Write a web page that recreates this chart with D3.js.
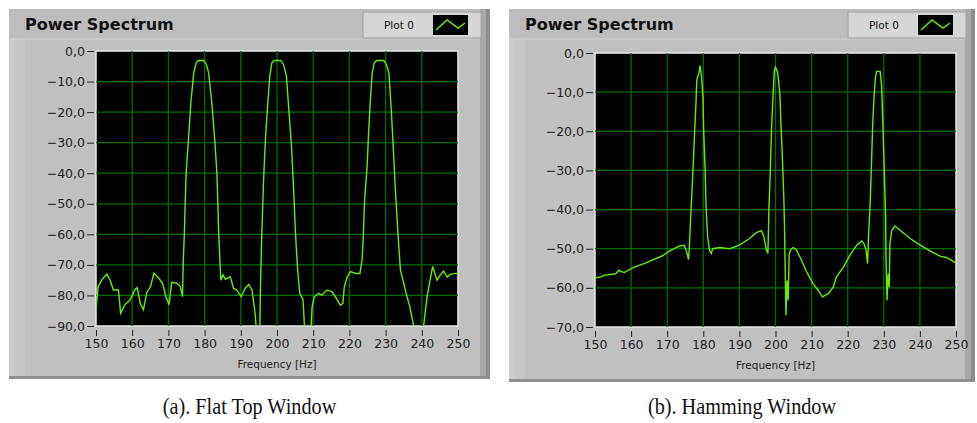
<!DOCTYPE html>
<html lang="en">
<head>
    <meta charset="UTF-8">
    <title>Power Spectrum</title>
    <script src="https://d3js.org/d3.v7.min.js"></script>
    <style>
        body { margin: 0; background: #fff; }
        text { font-family: 'DejaVu Sans', sans-serif; }
        text.caption { font-family: 'Liberation Serif', serif; }
    </style>
</head>
<body>
<script>
    const width  = 977;
    const height = 423;

    const xTicks = [150, 160, 170, 180, 190, 200, 210, 220, 230, 240, 250];
    const yTicksFlat = [0, -10, -20, -30, -40, -50, -60, -70, -80, -90];
    const yTicksHamming = [0, -10, -20, -30, -40, -50, -60, -70];

    // [frequency Hz, dB]
    const flatTop = [
        [150, -84.7], [150.6, -77], [151.6, -75], [153, -73], [153.9, -75], [154.8, -78.2],
        [156.2, -78.2], [156.8, -85.8], [158, -83], [159.4, -81.5], [160.8, -78], [161.4, -77.5],
        [162.2, -82.5], [163.1, -84.7], [164, -79.2], [165.1, -77], [166, -72.7], [167.3, -74.3],
        [168.4, -76], [169.3, -80.4], [170.2, -83], [170.9, -75.7], [172.3, -76], [173.3, -77],
        [173.9, -80.4], [174.1, -69], [174.4, -60], [174.6, -50.9], [174.9, -40], [175.6, -27.9],
        [176.2, -17], [177, -7.1], [177.7, -3.8], [178.3, -3.1], [179.7, -3.1], [180.5, -4.4],
        [181.1, -7.1], [182, -17], [182.8, -29], [183.4, -40], [183.9, -59.6], [184.3, -70.6],
        [184.5, -75], [185.1, -73.3], [185.7, -74.7], [187.1, -73.9], [188, -77.7], [188.9, -78.2],
        [190.1, -80.4], [191.2, -77.7], [192.2, -76.4], [193.1, -78.2], [194, -86.4], [194.5, -95],
        [195.2, -95], [195.4, -79.3], [195.7, -64], [196, -53], [196.3, -42.1], [196.8, -29],
        [197.4, -18], [198, -8.2], [198.6, -3.8], [199.3, -3.1], [201.1, -3.1], [201.8, -4.4],
        [202.6, -8.2], [203.2, -18], [204, -31.2], [204.6, -45.4], [205.1, -59.6], [205.7, -71.7],
        [206.3, -79.3], [207.2, -81.5], [207.8, -95], [209.2, -95], [209.7, -83.7], [210.3, -80.4],
        [211.5, -79.3], [212.4, -79.9], [213.8, -78.2], [215.2, -78.8], [216.1, -80.4], [217.5, -83.2],
        [218.2, -82.6], [218.6, -77.1], [219.4, -73.9], [220.3, -72.2], [221.7, -72.8], [222.9, -72.8],
        [223.5, -68.4], [223.8, -61.8], [224.2, -48.7], [224.9, -37.7], [225.3, -26.8], [225.8, -15.9],
        [226.3, -7.1], [226.9, -3.8], [227.6, -3.1], [229.5, -3.1], [230.2, -4.4], [230.9, -7.1],
        [231.5, -18], [232.1, -31.2], [232.7, -45.4], [233.4, -59.6], [234.1, -71.7], [235, -76],
        [235.9, -80.4], [236.7, -83.7], [238.6, -95], [240, -95], [241.5, -80], [243, -70.5],
        [244.2, -75], [245, -73.5], [246, -72], [247, -74], [248, -73], [250, -72.7]
    ];

    const hamming = [
        [150, -57.5], [151.6, -57.2], [152.5, -56.8], [155.7, -56.4], [156.7, -55.5], [157.1, -55.8],
        [158.1, -56.1], [160.4, -54.9], [164.1, -53.6], [168.7, -51.8], [170.6, -50.6], [173.4, -49.3],
        [174.7, -49.1], [175.4, -50.8], [175.9, -52.8], [176.1, -50.2], [176.6, -40.1], [177.1, -30.7],
        [177.5, -22.2], [178, -12], [178.2, -6.8], [178.8, -5.1], [179.1, -3.2], [179.5, -6],
        [179.9, -11.1], [180.1, -19.6], [180.5, -29.9], [180.8, -40.1], [181.2, -47], [181.7, -50.4],
        [182.2, -51.2], [182.6, -50], [184.5, -49.7], [187.3, -50], [190, -49.1], [192.8, -47.4],
        [194.7, -45.9], [196.1, -45.4], [196.8, -47], [197.5, -50.4], [197.9, -51.2], [198.2, -39.3],
        [198.6, -29], [198.9, -19.6], [199.3, -11.1], [199.7, -4.3], [200, -3.6], [200.6, -5.1],
        [201.2, -10.2], [201.5, -17.9], [201.9, -26.5], [202.3, -36.7], [202.5, -44.4], [202.7, -56.4],
        [202.9, -67], [203.2, -58.1], [203.5, -63.2], [203.8, -51.2], [204.3, -50.1], [204.9, -49.7],
        [205.8, -50.4], [207.2, -52.9], [208.6, -55.9], [210.4, -58.9], [211.8, -60.6], [213, -62.3],
        [214.6, -61.5], [216, -59.8], [216.9, -57.2], [218.8, -54.7], [220.6, -51.7], [222.5, -49.1],
        [223.9, -48], [224.5, -48.7], [225.1, -50.4], [225.5, -53.8], [225.8, -46.1], [226.2, -39.3],
        [226.6, -28.2], [226.9, -18.8], [227.3, -11.1], [227.7, -6], [228, -4.7], [229, -4.7],
        [229.4, -8.5], [229.7, -17.1], [230.1, -29], [230.5, -41.8], [230.6, -52.1], [230.9, -63.2],
        [231.2, -56.4], [231.5, -59.8], [231.7, -48.7], [232.2, -45.3], [233.1, -44.2], [234.5, -45.3],
        [237.3, -47.4], [240.1, -49.1], [242.9, -50.6], [245.6, -51.9], [247.5, -52.3], [250, -53.6]
    ];

    const captions = ["(a). Flat Top Window", "(b). Hamming Window"];

    const svg = d3.select("body").append("svg").attr("width", width).attr("height", height);

    const fmt = d => d3.format(".1f")(d).replace(".", ",");

    draw({x0: 9,   y0: 9, w: 481, h: 370, plot: [96, 51, 458, 326],  yTicks: yTicksFlat,    data: flatTop,  caption: captions[0], id: "a"});
    draw({x0: 509, y0: 9, w: 466, h: 373, plot: [595, 53, 956, 327], yTicks: yTicksHamming, data: hamming, caption: captions[1], id: "b"});

    function draw(p) {
        const [pl, pt, pr, pb] = p.plot;
        const g = svg.append("g");

        // panel body
        g.append("rect").attr("x", p.x0).attr("y", p.y0).attr("width", p.w).attr("height", p.h).attr("fill", "#c0c0c0");
        g.append("rect").attr("x", p.x0).attr("y", p.y0).attr("width", p.w).attr("height", 30).attr("fill", "#bdbdbd");
        g.append("rect").attr("x", p.x0).attr("y", p.y0 + 30).attr("width", 6).attr("height", p.h - 30).attr("fill", "#cbcbcb");
        g.append("rect").attr("x", p.x0 + 6).attr("y", p.y0 + 30).attr("width", 10).attr("height", p.h - 30).attr("fill", "#c6c6c6");
        g.append("line").attr("x1", p.x0).attr("x2", p.x0 + p.w).attr("y1", p.y0 + 30).attr("y2", p.y0 + 30).attr("stroke", "#d2d2d2");
        g.append("rect").attr("x", p.x0 + p.w - 10).attr("y", p.y0).attr("width", 10).attr("height", p.h).attr("fill", "#a8a8a8");
        g.append("rect").attr("x", p.x0 + p.w - 4).attr("y", p.y0).attr("width", 4).attr("height", p.h).attr("fill", "#8e8e8e");
        g.append("rect").attr("x", p.x0).attr("y", p.y0 + p.h - 3).attr("width", p.w).attr("height", 3).attr("fill", "#8e8e8e");

        // title
        g.append("text").attr("x", p.x0 + 16).attr("y", p.y0 + 21)
            .attr("font-size", 16).attr("font-weight", "bold").attr("fill", "#111")
            .text("Power Spectrum");

        // legend
        const lx = p.x0 + p.w - 127;
        g.append("rect").attr("x", lx).attr("y", p.y0 + 3).attr("width", 118).attr("height", 26)
            .attr("fill", "#d6d6d6").attr("stroke", "#a0a0a0");
        g.append("text").attr("x", lx + 21).attr("y", p.y0 + 20).attr("font-size", 10.5).attr("fill", "#111").text("Plot 0");
        g.append("rect").attr("x", lx + 70).attr("y", p.y0 + 6).attr("width", 35).attr("height", 20).attr("fill", "#000");
        g.append("path").attr("d", d3.line()([[lx + 73, p.y0 + 21], [lx + 84, p.y0 + 11], [lx + 95, p.y0 + 19], [lx + 102, p.y0 + 14]]))
            .attr("stroke", "#66ee00").attr("stroke-width", 1.5).attr("fill", "none");

        const x = d3.scaleLinear().domain([150, 250]).range([pl, pr]);
        const y = d3.scaleLinear().domain([d3.min(p.yTicks), 0]).range([pb, pt]);

        // plot area
        g.append("rect").attr("x", pl).attr("y", pt).attr("width", pr - pl).attr("height", pb - pt)
            .attr("fill", "#000").attr("stroke", "#e8e8e8").attr("stroke-width", 1.5);

        g.append("g").selectAll("line").data(xTicks.slice(1, -1)).join("line")
            .attr("x1", d => x(d)).attr("x2", d => x(d)).attr("y1", pt).attr("y2", pb)
            .attr("stroke", "#006e00").attr("stroke-width", 1.3);
        g.append("g").selectAll("line").data(p.yTicks.slice(1, -1)).join("line")
            .attr("x1", pl).attr("x2", pr).attr("y1", d => y(d)).attr("y2", d => y(d))
            .attr("stroke", "#006e00").attr("stroke-width", 1.3);

        svg.append("clipPath").attr("id", "clip" + p.id).append("rect")
            .attr("x", pl).attr("y", pt).attr("width", pr - pl).attr("height", pb - pt);

        g.append("path").attr("clip-path", "url(#clip" + p.id + ")")
            .attr("d", d3.line().x(d => x(d[0])).y(d => y(d[1]))(p.data))
            .attr("stroke", "#66ee00").attr("stroke-width", 1.4).attr("fill", "none");

        // axes
        const yAxis = d3.axisLeft(y).tickValues(p.yTicks).tickFormat(fmt).tickSize(7).tickPadding(2);
        const ya = g.append("g").attr("transform", "translate(" + (pl - 2) + ",0)").call(yAxis);
        const xAxis = d3.axisBottom(x).tickValues(xTicks).tickSize(6).tickPadding(3);
        const xa = g.append("g").attr("transform", "translate(0," + (pb + 4) + ")").call(xAxis);
        [ya, xa].forEach(a => {
            a.select(".domain").remove();
            a.selectAll("line").attr("stroke", "#222");
            a.selectAll("text").style("font-family", "'DejaVu Sans', sans-serif").attr("font-size", 12.5).attr("fill", "#222");
        });

        g.append("text").attr("x", (pl + pr) / 2).attr("y", pb + 42).attr("text-anchor", "middle")
            .attr("font-size", 10.5).attr("fill", "#222").text("Frequency [Hz]");

        // caption, narrowed a little like the Times face in the original
        const cx = p.x0 + p.w / 2;
        svg.append("text").attr("class", "caption").attr("text-anchor", "middle")
            .attr("transform", "translate(" + cx + ",414) scale(0.88,1)")
            .attr("font-size", 23).attr("fill", "#111")
            .text(p.caption);
    }
</script>
</body>
</html>
